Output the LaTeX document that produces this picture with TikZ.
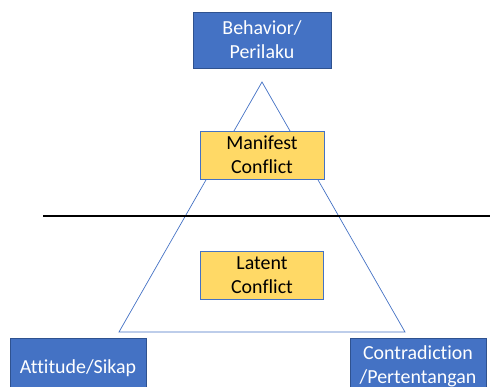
\documentclass[tikz,border=0pt]{standalone}
\usepackage{fontspec}
\setmainfont{Carlito}[Ligatures=NoCommon]
\usetikzlibrary{calc}
\definecolor{boxblue}{HTML}{4472C4}
\definecolor{boxedge}{HTML}{2F528F}
\definecolor{boxyellow}{HTML}{FFD966}

\begin{document}
\begin{tikzpicture}[x=0.03cm,y=-0.03cm]
	\tikzset{bluebox/.style={draw=boxedge,fill=boxblue,text=white,align=center,inner sep=0pt,font=\fontsize{17}{20.5}\selectfont},
		yellowbox/.style={draw=boxblue,fill=boxyellow,text=black,align=center,inner sep=0pt,font=\fontsize{17}{20.5}\selectfont}}
	\useasboundingbox (0,0) rectangle (490,387);
	\clip (0,0) rectangle (490,387);
	\coordinate (top) at (262,82);
	\coordinate (bl) at (119,332);
	\coordinate (br) at (405,332);
	\draw[boxblue,line width=0.6pt] (top) -- (bl) -- (br) -- cycle;
	\coordinate (L) at (43,216);
	\coordinate (R) at (490,216);
	\draw[line width=2.4pt] (L) -- (R);
	\node[bluebox,minimum width=4.14cm,minimum height=1.68cm] (behavior) at (262,40) {Behavior/\\Perilaku};
	\node[yellowbox,minimum width=3.72cm,minimum height=1.44cm] (manifest) at (262,155) {Manifest\\Conflict};
	\node[yellowbox,minimum width=3.69cm,minimum height=1.44cm] (latent) at (262,275) {Latent\\Conflict};
	\node[bluebox,minimum width=4.08cm,minimum height=1.8cm] (attitude) at (78,368) {Attitude/Sikap};
	\node[bluebox,minimum width=4.08cm,minimum height=1.68cm] (contra) at (418,366) {Contradiction\\/Pertentangan};
\end{tikzpicture}
\end{document}
